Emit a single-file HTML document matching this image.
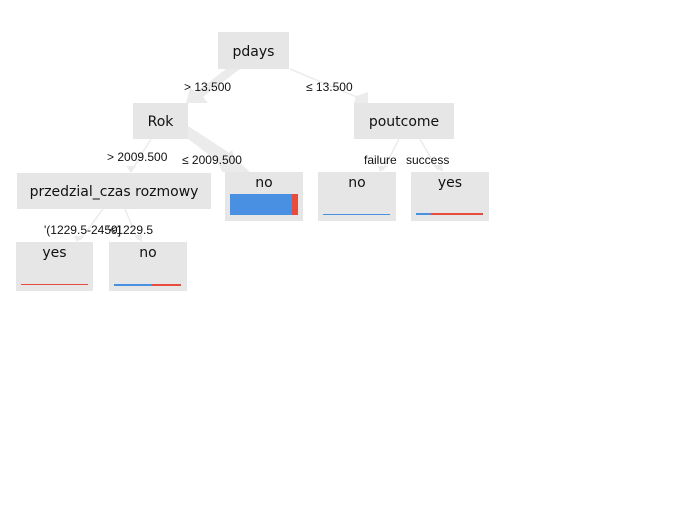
<!DOCTYPE html>
<html><head><meta charset="utf-8"><style>
html,body{margin:0;padding:0;background:#fff;width:679px;height:505px;overflow:hidden}
text{font-family:"DejaVu Sans","Liberation Sans",sans-serif;fill:#111}
.l{font-family:"Liberation Sans","DejaVu Sans",sans-serif}
</style></head><body>
<svg width="679" height="505" viewBox="0 0 679 505" xmlns="http://www.w3.org/2000/svg">
<g fill="#ebebeb" stroke="none">
 <polygon points="226,69 240,69 203,97 208,103 186,103 190,88 196,92"/>
 <polygon points="188,126 188,139 232,172 246,172 250,172 228,152"/>
 <polygon points="218,162 232,150 240,172 222,172"/>
</g>
<g stroke="#ececec" stroke-width="1.5" fill="none">
 <line x1="290" y1="69" x2="364" y2="100"/>
 <line x1="151" y1="139" x2="132" y2="170"/>
 <line x1="399" y1="139" x2="383" y2="170"/>
 <line x1="420" y1="139" x2="438" y2="170"/>
 <line x1="103" y1="209" x2="80" y2="240"/>
 <line x1="125" y1="209" x2="138" y2="240"/>
</g>
<g fill="#ececec">
 <polygon points="356,96 368,92 368,103 354,103"/>
 <polygon points="126,166 136,166 131,173"/>
 <polygon points="378,166 388,166 380,172"/>
 <polygon points="433,166 442,164 443,172"/>
 <polygon points="74,236 84,236 77,242"/>
 <polygon points="134,236 142,234 142,242"/>
</g>
<g fill="#e6e6e6">
 <rect x="218" y="32" width="71" height="37"/>
 <rect x="133" y="103" width="55" height="36"/>
 <rect x="354" y="103" width="100" height="36"/>
 <rect x="17" y="173" width="194" height="36"/>
 <rect x="225" y="172" width="78" height="49"/>
 <rect x="318" y="172" width="78" height="49"/>
 <rect x="411" y="172" width="78" height="49"/>
 <rect x="16" y="242" width="77" height="49"/>
 <rect x="109" y="242" width="78" height="49"/>
</g>
<rect x="230" y="194" width="62" height="21" fill="#4a90e2"/>
<rect x="292" y="194" width="6" height="21" fill="#e74c3c"/>
<rect x="323" y="214" width="67" height="1" fill="#4a90e2"/>
<rect x="416" y="213" width="15" height="2" fill="#4a90e2"/>
<rect x="431" y="213" width="52" height="2" fill="#e74c3c"/>
<rect x="21" y="284" width="67" height="1" fill="#e74c3c"/>
<rect x="114" y="284" width="38" height="2" fill="#4a90e2"/>
<rect x="152" y="284" width="29" height="2" fill="#e74c3c"/>
<g font-size="14" text-anchor="middle" font-weight="500">
 <text x="253.5" y="56">pdays</text>
 <text x="160.5" y="126">Rok</text>
 <text x="404" y="126">poutcome</text>
 <text x="114" y="196">przedzial_czas rozmowy</text>
 <text x="264" y="187">no</text>
 <text x="357" y="187">no</text>
 <text x="450" y="187">yes</text>
 <text x="54.5" y="257">yes</text>
 <text x="148" y="257">no</text>
</g>
<g font-size="12" class="l">
 <text class="l" x="184" y="91">&gt; 13.500</text>
 <text class="l" x="306" y="91">≤ 13.500</text>
 <text class="l" x="107" y="161">&gt; 2009.500</text>
 <text class="l" x="182" y="164">≤ 2009.500</text>
 <text class="l" x="364" y="164">failure</text>
 <text class="l" x="406" y="164">success</text>
 <text class="l" x="44" y="234">'(1229.5-2459]</text>
 <text class="l" x="107" y="234">'&lt;1229.5</text>
</g>
</svg>
</body></html>
